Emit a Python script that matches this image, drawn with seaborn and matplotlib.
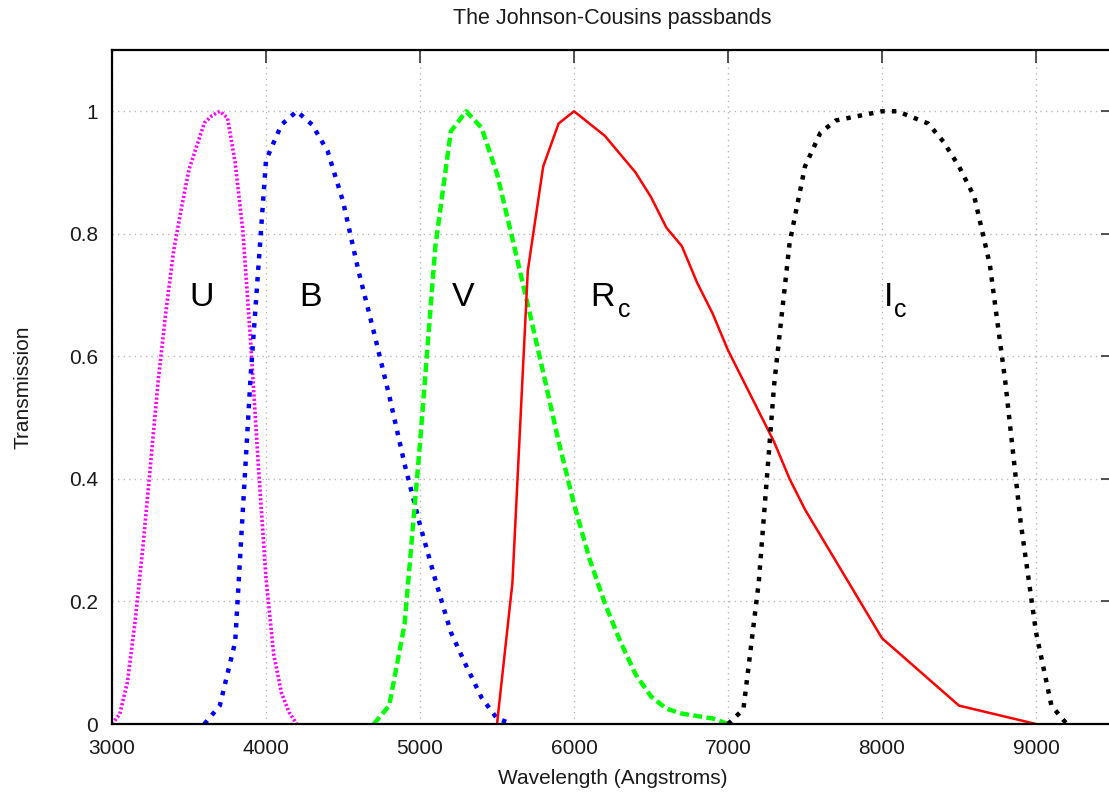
import matplotlib
matplotlib.use("Agg")
import matplotlib.pyplot as plt
import seaborn as sns
import pandas as pd

# ---- data ----
u_wave = [3000, 3050, 3100, 3150, 3200, 3250, 3300, 3350, 3400, 3450, 3500, 3550, 3600,
          3650, 3700, 3750, 3800, 3850, 3900, 3950, 4000, 4050, 4100, 4150, 4200]
u_trans = [0.000, 0.016, 0.068, 0.167, 0.287, 0.423, 0.560, 0.673, 0.772, 0.841, 0.905, 0.943,
           0.981, 0.993, 1.000, 0.989, 0.916, 0.804, 0.625, 0.423, 0.238, 0.114, 0.051, 0.019, 0.000]

b_wave = [3600, 3700, 3800, 3900, 4000, 4100, 4200, 4300, 4400, 4500, 4600, 4700, 4800,
          4900, 5000, 5100, 5200, 5300, 5400, 5500, 5600]
b_trans = [0.000, 0.030, 0.134, 0.567, 0.920, 0.978, 1.000, 0.978, 0.935, 0.853, 0.740, 0.640,
           0.536, 0.424, 0.325, 0.235, 0.150, 0.095, 0.043, 0.009, 0.000]

v_wave = [4700, 4800, 4900, 5000, 5100, 5200, 5300, 5400, 5500, 5600, 5700, 5800, 5900,
          6000, 6100, 6200, 6300, 6400, 6500, 6600, 6700, 6800, 6900, 7000]
v_trans = [0.000, 0.030, 0.163, 0.458, 0.780, 0.967, 1.000, 0.973, 0.898, 0.792, 0.684, 0.574,
           0.461, 0.359, 0.270, 0.197, 0.135, 0.081, 0.045, 0.025, 0.017, 0.013, 0.009, 0.000]

r_wave = [5500, 5600, 5700, 5800, 5900, 6000, 6100, 6200, 6300, 6400, 6500, 6600, 6700,
          6800, 6900, 7000, 7100, 7200, 7300, 7400, 7500, 8000, 8500, 9000]
r_trans = [0.00, 0.23, 0.74, 0.91, 0.98, 1.00, 0.98, 0.96, 0.93, 0.90, 0.86, 0.81, 0.78,
           0.72, 0.67, 0.61, 0.56, 0.51, 0.46, 0.40, 0.35, 0.14, 0.03, 0.00]

i_wave = [7000, 7100, 7200, 7300, 7400, 7500, 7600, 7700, 7800, 7900, 8000, 8100, 8200,
          8300, 8400, 8500, 8600, 8700, 8800, 8900, 9000, 9100, 9200]
i_trans = [0.000, 0.024, 0.232, 0.555, 0.785, 0.910, 0.965, 0.985, 0.990, 0.995, 1.000, 1.000,
           0.990, 0.980, 0.950, 0.910, 0.860, 0.750, 0.560, 0.330, 0.150, 0.030, 0.000]

band_letters = ["U", "B", "V", "R", "I"]
band_letter_x = [3584, 4292, 5279, 6185, 8045]
band_subs = ["", "", "", "c", "c"]
band_sub_x = [0, 0, 0, 6328, 8120]
letter_y = 0.683
sub_y = 0.665
x_ticks = [3000, 4000, 5000, 6000, 7000, 8000, 9000]
y_ticks = [0, 0.2, 0.4, 0.6, 0.8, 1.0]
y_ticklabels = ["0", "0.2", "0.4", "0.6", "0.8", "1"]

# ---- style ----
sns.set_style("white")
plt.rcParams["font.family"] = ["Liberation Sans", "DejaVu Sans"]

fig = plt.figure(figsize=(11.09, 7.98), dpi=100)
ax = fig.add_axes([112 / 1109, 74 / 798, 1001 / 1109, 674 / 798])

series = [
    (u_wave, u_trans, "#ff00ff", (0, (0.6, 0.6)), 2.6),
    (b_wave, b_trans, "#0000ff", (0, (1, 1.6)), 3.2),
    (v_wave, v_trans, "#00ff00", (0, (2, 1)), 3.2),
    (r_wave, r_trans, "#ff0000", "-", 1.8),
    (i_wave, i_trans, "#000000", (0, (1, 1.6)), 3.2),
]
for w, t, c, ls, lw in series:
    df = pd.DataFrame({"w": w, "t": t})
    sns.lineplot(data=df, x="w", y="t", ax=ax, color=c, linestyle=ls,
                 linewidth=lw, estimator=None, sort=False)

for letter, lx, sub, sx in zip(band_letters, band_letter_x, band_subs, band_sub_x):
    ax.text(lx, letter_y, letter, ha="center", va="baseline", fontsize=24.5, color="black")
    if sub:
        ax.text(sx, sub_y, sub, ha="center", va="baseline", fontsize=18, color="black")

ax.set_xlim(3000, 9500)
ax.set_ylim(0, 1.1)
ax.set_xticks(x_ticks)
ax.set_yticks(y_ticks)
ax.set_yticklabels(y_ticklabels)
ax.tick_params(direction="in", length=9, width=1.2, top=True, right=True,
               labelsize=15, color="#333333", labelcolor="#1a1a1a")
ax.tick_params(axis="x", pad=11)
ax.tick_params(axis="y", pad=10)
ax.grid(True, color="#b8b8b8", linestyle=(0, (1, 3)), linewidth=1.0)
for s in ax.spines.values():
    s.set_linewidth(1.6)
    s.set_color("black")

ax.set_xlabel("Wavelength (Angstroms)", fontsize=15, color="#1a1a1a")
ax.xaxis.set_label_coords(0.5, -(769 - 724) / 674)
ax.set_ylabel("Transmission", fontsize=15, color="#1a1a1a")
ax.yaxis.set_label_coords((33 - 112) / 1001, 0.5)
ax.set_title("The Johnson-Cousins passbands", fontsize=15.5, pad=19, color="#1a1a1a")

fig.savefig("out.png", dpi=100)
